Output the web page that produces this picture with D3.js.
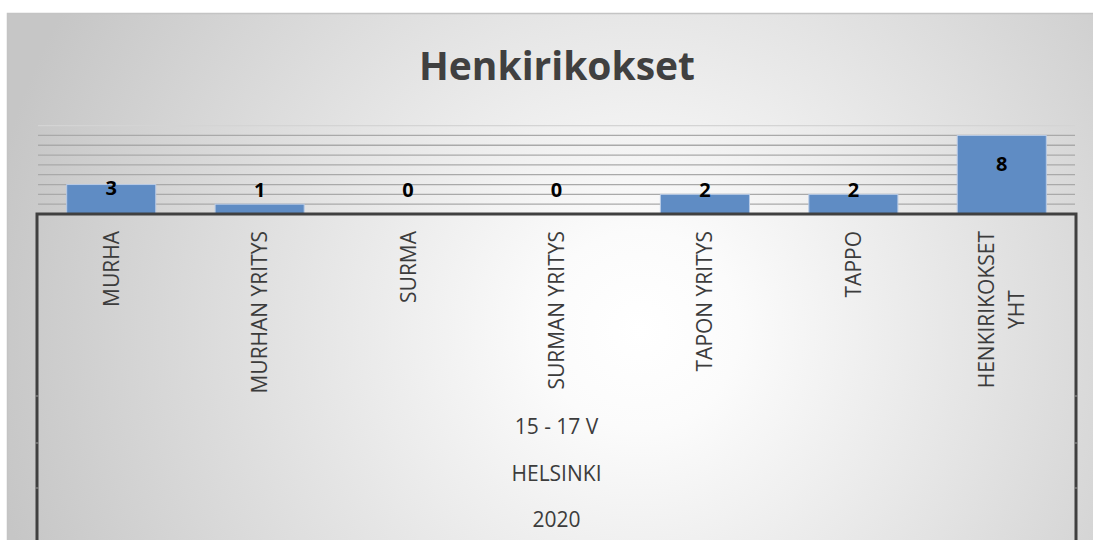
<!DOCTYPE html>
<html>
<head>
<meta charset="utf-8">
<script src="https://cdn.jsdelivr.net/npm/d3@7"></script>
<style>
  html, body { margin: 0; padding: 0; background: #fff; }
  svg { display: block; font-family: "Open Sans", "DejaVu Sans", sans-serif; }
</style>
</head>
<body>
<svg id="chart"></svg>
<script>
var width = 1093,
    height = 540;

// data
var categories = ["MURHA", "MURHAN YRITYS", "SURMA", "SURMAN YRITYS", "TAPON YRITYS", "TAPPO", "HENKIRIKOKSET YHT"];
var values = [3, 1, 0, 0, 2, 2, 8];
var groupLabels = ["15 - 17 V", "HELSINKI", "2020"];
var gridTicks = [1, 2, 3, 4, 5, 6, 7, 8, 9];
var title = "Henkirikokset";

var svg = d3.select("#chart").attr("width", width).attr("height", height);

// background gradient (white spot in the middle, gray toward the corners)
var defs = svg.append("defs");
var grad = defs.append("radialGradient")
    .attr("id", "bg")
    .attr("gradientUnits", "userSpaceOnUse")
    .attr("cx", 640).attr("cy", 330).attr("r", 660);
grad.append("stop").attr("offset", "0").attr("stop-color", "#ffffff");
grad.append("stop").attr("offset", "0.15").attr("stop-color", "#fbfbfb");
grad.append("stop").attr("offset", "1").attr("stop-color", "#c6c6c6");

svg.append("rect")
    .attr("x", 7.5).attr("y", 13.5)
    .attr("width", width).attr("height", height)
    .attr("fill", "url(#bg)")
    .attr("stroke", "#c4c4c4")
    .attr("stroke-width", 1.5);

var margin = {left: 37, right: 1076, top: 126, base: 214};

var x = d3.scaleBand()
    .domain(categories)
    .range([margin.left, margin.right])
    .paddingInner(0.4)
    .paddingOuter(0.2);

var y = d3.scaleLinear()
    .domain([0, 9])
    .range([margin.base, margin.base - 9 * 9.82]);

// title
svg.append("text")
    .attr("x", 557).attr("y", 80)
    .attr("text-anchor", "middle")
    .attr("font-size", 39)
    .attr("font-weight", "bold")
    .attr("fill", "#404040")
    .text(title);

// gridlines
svg.append("g").selectAll("line")
    .data(gridTicks)
    .enter().append("line")
    .attr("x1", margin.left + 1).attr("x2", margin.right - 1)
    .attr("y1", function(d) { return y(d); })
    .attr("y2", function(d) { return y(d); })
    .attr("stroke", function(d) { return d === 9 ? "#d4d4d4" : "#a9a9a9"; })
    .attr("stroke-width", 1.3);

// bars
svg.append("g").selectAll("rect")
    .data(values)
    .enter().append("rect")
    .attr("x", function(d, i) { return x(categories[i]); })
    .attr("width", x.bandwidth())
    .attr("y", function(d) { return y(d); })
    .attr("height", function(d) { return y(0) - y(d); })
    .attr("fill", "#5f8cc4")
    .attr("stroke", "#b9cbe6")
    .attr("stroke-width", 1);

// value labels
svg.append("g").selectAll("text")
    .data(values)
    .enter().append("text")
    .attr("x", function(d, i) { return x(categories[i]) + x.bandwidth() / 2; })
    .attr("y", function(d) { return Math.min((y(d) + y(0)) / 2 - 11, 190) + 7; })
    .attr("text-anchor", "middle")
    .attr("font-size", 20)
    .attr("font-weight", "bold")
    .attr("fill", "#000")
    .text(function(d) { return d; });

// axis box (multi level category axis)
var axis = svg.append("g")
    .attr("fill", "none")
    .attr("stroke", "#404040")
    .attr("stroke-width", 3);
axis.append("path")
    .attr("d", "M" + margin.left + "," + (height + 2) + "V" + margin.base + "H" + margin.right + "V" + (height + 2));

// little separators on the side lines
[396, 443, 488].forEach(function(sy) {
    [margin.left, margin.right].forEach(function(sx) {
        svg.append("line")
            .attr("x1", sx - 1.5).attr("x2", sx + 1.5)
            .attr("y1", sy).attr("y2", sy)
            .attr("stroke", "#9a9a9a")
            .attr("stroke-width", 1);
    });
});

// category labels, rotated
var catFont = 21, lineH = 30, topY = 231;
var cats = svg.append("g")
    .attr("font-size", catFont)
    .attr("fill", "#3c3c3c");

categories.forEach(function(c) {
    var words = c.split(" "), lines = [], cur = "";
    var probe = cats.append("text").attr("visibility", "hidden");
    words.forEach(function(w) {
        var test = cur ? cur + " " + w : w;
        probe.text(test);
        if (probe.node().getComputedTextLength() > 190 && cur) {
            lines.push(cur);
            cur = w;
        } else {
            cur = test;
        }
    });
    lines.push(cur);
    var maxLen = d3.max(lines, function(l) { probe.text(l); return probe.node().getComputedTextLength(); });
    probe.remove();

    var g = cats.append("g")
        .attr("transform", "translate(" + (x(c) + x.bandwidth() / 2) + "," + (topY + maxLen / 2) + ") rotate(-90)");
    g.selectAll("text")
        .data(lines)
        .enter().append("text")
        .attr("x", 0)
        .attr("y", function(d, i) { return (i - (lines.length - 1) / 2) * lineH + 7.5; })
        .attr("text-anchor", "middle")
        .text(function(d) { return d; });
});

// outer group labels
svg.append("g").selectAll("text")
    .data(groupLabels)
    .enter().append("text")
    .attr("x", (margin.left + margin.right) / 2)
    .attr("y", function(d, i) { return 434 + i * 46.7; })
    .attr("text-anchor", "middle")
    .attr("font-size", catFont)
    .attr("fill", "#3c3c3c")
    .text(function(d) { return d; });
</script>
</body>
</html>
